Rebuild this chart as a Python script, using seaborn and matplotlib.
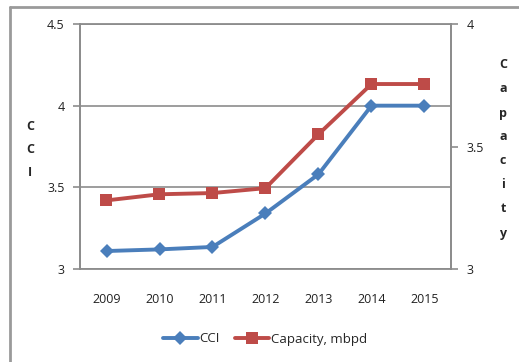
import matplotlib
matplotlib.use("Agg")
import matplotlib.pyplot as plt
from matplotlib.lines import Line2D
from matplotlib.ticker import FixedLocator, NullFormatter
import seaborn as sns
import pandas as pd

years = ["2009", "2010", "2011", "2012", "2013", "2014", "2015"]
cci = [3.11, 3.12, 3.135, 3.34, 3.58, 4.0, 4.0]
capacity = [3.28, 3.305, 3.31, 3.33, 3.55, 3.755, 3.755]
left_ticks = [3, 3.5, 4, 4.5]
left_labels = ["3", "3.5", "4", "4.5"]
right_ticks = [3, 3.5, 4]
right_labels = ["3", "3.5", "4"]

sns.set_theme(style="white")
plt.rcParams["font.family"] = ["Liberation Sans Narrow", "Open Sans", "DejaVu Sans"]

blue = "#4A7EBB"
red = "#BE4B48"
grey = "#8C8C8C"

df = pd.DataFrame({"year": years, "CCI": cci, "Capacity": capacity})
df["pos"] = range(len(years))

fig = plt.figure(figsize=(5.19, 3.62), dpi=100)
ax = fig.add_axes([80 / 519, 1 - 269 / 362, (451 - 80) / 519, (269 - 24) / 362])
ax2 = ax.twinx()

sns.lineplot(data=df, x="pos", y="CCI", ax=ax, color=blue, linewidth=2.8,
             marker="D", markersize=7, markeredgewidth=0, label="CCI", legend=False)
sns.lineplot(data=df, x="pos", y="Capacity", ax=ax2, color=red, linewidth=2.8,
             marker="s", markersize=8, markeredgewidth=0, label="Capacity, mbpd", legend=False)

ax.set_xlim(-0.5, len(years) - 0.5)
ax.set_ylim(3, 4.5)
ax2.set_ylim(3, 4)

# category labels centred, tick marks at category boundaries
ax.set_xticks(range(len(years)))
ax.set_xticklabels(years, fontsize=9, color="#222222")
ax.xaxis.set_minor_locator(FixedLocator([i - 0.5 for i in range(len(years) + 1)]))
ax.xaxis.set_minor_formatter(NullFormatter())
ax.tick_params(axis="x", which="major", length=0, pad=17)
ax.tick_params(axis="x", which="minor", length=5, width=1.2, color=grey, direction="out")

ax.set_yticks(left_ticks)
ax.set_yticklabels(left_labels, fontsize=9, color="#222222")
ax.tick_params(axis="y", length=5, width=1.2, color=grey, direction="out", pad=6)
ax2.set_yticks(right_ticks)
ax2.set_yticklabels(right_labels, fontsize=9, color="#222222")
ax2.tick_params(axis="y", length=5, width=1.2, color=grey, direction="out", pad=6)

ax.grid(axis="y", color=grey, linewidth=1.2)
ax.set_axisbelow(True)
for a in (ax, ax2):
    for s in a.spines.values():
        s.set_color(grey)
        s.set_linewidth(1.3)
ax2.spines["top"].set_visible(False)
ax2.spines["bottom"].set_visible(False)

ax.set_xlabel("")
ax.set_ylabel("")
ax2.set_ylabel("")

# stacked-letter axis titles
fig.text(30 / 519, 1 - 150 / 362, "C\nC\nI", ha="center", va="center",
         fontsize=9, fontweight="bold", linespacing=2.0)
fig.text(503 / 519, 1 - 149 / 362, "C\na\np\na\nc\ni\nt\ny", ha="center", va="center",
         fontsize=9, fontweight="bold", linespacing=2.1)

# legend
handles = [
    Line2D([], [], color=blue, linewidth=2.8, marker="D", markersize=7, markeredgewidth=0),
    Line2D([], [], color=red, linewidth=2.8, marker="s", markersize=8, markeredgewidth=0),
]
fig.legend(handles, ["CCI", "Capacity, mbpd"], loc="center", bbox_to_anchor=(265 / 519, 1 - 339 / 362),
           ncol=2, frameon=False, fontsize=9.5, handlelength=2.6, handletextpad=0.1, columnspacing=1.2)

# chart frame
fig.add_artist(Line2D([10 / 519, 10 / 519], [0, 1 - 7 / 362], transform=fig.transFigure,
                      color="#9A9A9A", linewidth=2))
fig.add_artist(Line2D([10 / 519, 1], [1 - 7 / 362, 1 - 7 / 362], transform=fig.transFigure,
                      color="#9A9A9A", linewidth=2))

fig.savefig("out.png", dpi=100, facecolor="white")
